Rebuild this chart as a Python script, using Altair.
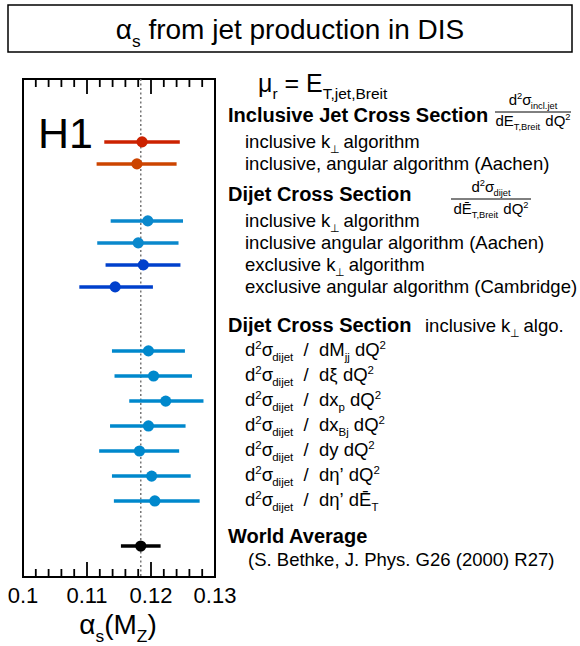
import re
import altair as alt
import pandas as pd

# ---------------- data ----------------
labels = ["Incl. jet, inclusive kT", "Incl. jet, angular (Aachen)",
          "Dijet, inclusive kT", "Dijet, incl. angular (Aachen)",
          "Dijet, exclusive kT", "Dijet, excl. angular (Cambridge)",
          "dMjj dQ2", "dxi dQ2", "dxp dQ2", "dxBj dQ2", "dy dQ2",
          "deta' dQ2", "deta' dET", "World Average"]
alpha_s = [0.1186, 0.1178, 0.1195, 0.1180, 0.1188, 0.1144, 0.1196,
           0.1204, 0.1223, 0.1196, 0.1182, 0.1201, 0.1206, 0.1184]
err_lo = [0.1127, 0.1115, 0.1137, 0.1116, 0.1129, 0.1088, 0.1139,
          0.1143, 0.1166, 0.1136, 0.1119, 0.1139, 0.1142, 0.1153]
err_hi = [0.1245, 0.1240, 0.1250, 0.1243, 0.1246, 0.1203, 0.1253,
          0.1264, 0.1282, 0.1254, 0.1244, 0.1262, 0.1276, 0.1215]
row_pos = [2.86, 3.86, 6.45, 7.45, 8.45, 9.45, 12.36,
           13.5, 14.64, 15.77, 16.91, 18.05, 19.18, 21.23]
group = ["incl_kt", "incl_aachen", "dijet_incl", "dijet_incl",
         "dijet_excl", "dijet_excl"] + ["dijet_var"] * 7 + ["world"]
group_names = ["incl_kt", "incl_aachen", "dijet_incl", "dijet_excl", "dijet_var", "world"]
group_colors = ["#cc2200", "#cc4400", "#0a88cc", "#0040cc", "#0088cc", "#000000"]
world_average = [0.1184]

major_ticks = [0.11, 0.12]
minor_ticks = [0.102, 0.104, 0.106, 0.108, 0.112, 0.114, 0.116, 0.118,
               0.122, 0.124, 0.126, 0.128]
label_ticks = [0.1, 0.11, 0.12, 0.13]
tick_labels = ["0.1", "0.11", "0.12", "0.13"]

# ---------------- layout ----------------
W, H = 192, 498          # plot frame
OX, OY = 23, 79          # frame origin in page coordinates
XDOM = [0.1, 0.13]
YDOM = [0, 498 / 22]
FONT = "Liberation Sans"

REG = {' ': 278, '(': 333, ')': 333, ',': 278, '.': 278, '/': 278, '=': 584, '’': 222,
       'A': 667, 'B': 667, 'C': 722, 'D': 722, 'E': 667, 'Ē': 667, 'G': 778, 'H': 722,
       'I': 278, 'J': 500, 'M': 833, 'P': 667, 'Q': 778, 'R': 722, 'S': 667, 'T': 611,
       'W': 944, 'Z': 611, 'a': 556, 'b': 556, 'c': 500, 'd': 556, 'e': 556, 'f': 278,
       'g': 556, 'h': 556, 'i': 222, 'j': 222, 'k': 500, 'l': 222, 'm': 833, 'n': 556,
       'o': 556, 'p': 556, 'r': 333, 's': 500, 't': 278, 'u': 556, 'v': 500, 'x': 500,
       'y': 500, 'α': 578, 'μ': 576, 'σ': 571, 'ξ': 459, 'η': 556, '⊥': 700}
BOLD = {' ': 278, 'A': 722, 'C': 722, 'D': 722, 'I': 278, 'J': 556, 'S': 667, 'W': 944,
        'a': 556, 'c': 556, 'e': 556, 'g': 611, 'i': 278, 'j': 278, 'l': 278, 'n': 611,
        'o': 611, 'r': 389, 's': 556, 't': 333, 'u': 611, 'v': 556}


def text_width(t, size, weight):
    table = BOLD if weight == "bold" else REG
    return sum(table.get(c, 556) for c in t) * size / 1000.0


def parse(s):
    out = []
    for tok in re.split(r'(\^\{[^}]*\}|_\{[^}]*\})', s):
        if not tok:
            continue
        if tok.startswith('^{'):
            out.append(('sup', tok[2:-1]))
        elif tok.startswith('_{'):
            out.append(('sub', tok[2:-1]))
        else:
            out.append(('n', tok))
    return out


pieces = []


def add(x, y, s, size=18.5, weight="normal", align="left"):
    segs = parse(s)
    sized = []
    for kind, t in segs:
        sz = size if kind == 'n' else size * 0.62
        dy = 0 if kind == 'n' else (0.27 * size if kind == 'sub' else -0.40 * size)
        sized.append((t, sz, dy))
    total = sum(text_width(t, sz, weight) for t, sz, dy in sized)
    if align == "center":
        x = x - total / 2
    for t, sz, dy in sized:
        # split on spaces: every word is its own piece, spaces only advance x
        for word in re.split(r'( )', t):
            if word and word != ' ':
                pieces.append(dict(px=x - OX, py=y + dy - OY, text=word,
                                   size=sz, weight=weight))
            x += text_width(word, sz, weight)


frac_lines = []

add(290, 39, "α_{s} from jet production in DIS", 28, align="center")
add(258, 92, "μ_{r} = E_{T,jet,Breit}", 25)
add(228, 122, "Inclusive Jet Cross Section", 20, "bold")
add(533, 105, "d^{2}σ_{incl.jet}", 15, align="center")
frac_lines.append(dict(px=495 - OX, px2=571 - OX, py=112 - OY))
add(533, 126, "dE_{T,Breit} dQ^{2}", 15, align="center")
add(245, 148, "inclusive k_{⊥} algorithm")
add(245, 170, "inclusive, angular algorithm (Aachen)")
add(228, 201, "Dijet Cross Section", 20, "bold")
add(491, 192, "d^{2}σ_{dijet}", 15, align="center")
frac_lines.append(dict(px=451 - OX, px2=531 - OX, py=199 - OY))
add(491, 214, "dĒ_{T,Breit} dQ^{2}", 15, align="center")
add(245, 227, "inclusive k_{⊥} algorithm")
add(245, 249, "inclusive angular algorithm (Aachen)")
add(245, 271, "exclusive k_{⊥} algorithm")
add(245, 293, "exclusive angular algorithm (Cambridge)")
add(228, 332, "Dijet Cross Section", 20, "bold")
add(425, 332, "inclusive k_{⊥} algo.")
dlines = ["dM_{jj} dQ^{2}", "dξ dQ^{2}", "dx_{p} dQ^{2}", "dx_{Bj} dQ^{2}",
          "dy dQ^{2}", "dη’ dQ^{2}", "dη’ dĒ_{T}"]
for i, d in enumerate(dlines):
    add(245, 356 + 25 * i, "d^{2}σ_{dijet}  /  " + d)
add(228, 543, "World Average", 20, "bold")
add(248, 566, "(S. Bethke, J. Phys. G26 (2000) R27)")
add(38, 148, "H1", 43)
add(118, 634, "α_{s}(M_{Z})", 28, align="center")

txt = pd.DataFrame(pieces)
fl = pd.DataFrame(frac_lines)

meas = pd.DataFrame(dict(label=labels, value=alpha_s, lo=err_lo, hi=err_hi,
                         row=row_pos, group=group))
xs = alt.Scale(domain=XDOM, nice=False, zero=False)
ys = alt.Scale(domain=YDOM, nice=False, zero=False, reverse=True)
cs = alt.Scale(domain=group_names, range=group_colors)

# title box
box = alt.Chart(pd.DataFrame({"a": [0]})).mark_rect(
    fill="white", stroke="black", strokeWidth=1.5
).encode(x=alt.value(8 - OX), x2=alt.value(572 - OX),
         y=alt.value(5 - OY), y2=alt.value(52 - OY))

# dotted world-average line
wa = alt.Chart(pd.DataFrame({"v": world_average})).mark_rule(
    color="#777777", strokeDash=[2, 2.5], strokeWidth=1.5
).encode(x=alt.X("v:Q", scale=xs, axis=None), y=alt.value(0), y2=alt.value(H))

# axis tick labels
axis_labels = alt.Chart(pd.DataFrame({"v": label_ticks, "lab": tick_labels})).mark_text(
    font=FONT, fontSize=22, baseline="alphabetic", align="center", color="black"
).encode(x=alt.X("v:Q", scale=xs, axis=None), y=alt.value(603 - OY), text="lab:N")

tick_rows = ([dict(v=v, y0=0, y1=15) for v in major_ticks] +
             [dict(v=v, y0=H - 15, y1=H) for v in major_ticks] +
             [dict(v=v, y0=0, y1=8) for v in minor_ticks] +
             [dict(v=v, y0=H - 8, y1=H) for v in minor_ticks])
ticks = alt.Chart(pd.DataFrame(tick_rows)).mark_rule(color="black", strokeWidth=1.8).encode(
    x=alt.X("v:Q", scale=xs, axis=None),
    y=alt.Y("y0:Q", scale=None, axis=None), y2="y1:Q")

bars = alt.Chart(meas).mark_rule(strokeWidth=3.5).encode(
    x=alt.X("lo:Q", scale=xs, axis=None), x2="hi:Q",
    y=alt.Y("row:Q", scale=ys, axis=None),
    color=alt.Color("group:N", scale=cs, legend=None))
pts = alt.Chart(meas).mark_circle(size=125, opacity=1).encode(
    x=alt.X("value:Q", scale=xs, axis=None),
    y=alt.Y("row:Q", scale=ys, axis=None),
    color=alt.Color("group:N", scale=cs, legend=None))

fr = alt.Chart(fl).mark_rule(color="black", strokeWidth=1).encode(
    x=alt.X("px:Q", scale=None, axis=None), x2="px2:Q",
    y=alt.Y("py:Q", scale=None, axis=None))


def text_layer(weight):
    return alt.Chart(txt).transform_filter(
        alt.datum.weight == weight
    ).mark_text(align="left", baseline="alphabetic", font=FONT, fontWeight=weight,
                color="black").encode(
        x=alt.X("px:Q", scale=None, axis=None),
        y=alt.Y("py:Q", scale=None, axis=None),
        text="text:N",
        size=alt.Size("size:Q", scale=None, legend=None))


chart = alt.layer(box, wa, ticks, bars, pts, fr, axis_labels,
                  text_layer("normal"), text_layer("bold")).properties(
    width=W, height=H,
    autosize=alt.AutoSizeParams(type="none"),
    padding={"left": OX, "top": OY, "right": 580 - OX - W, "bottom": 646 - OY - H},
    background="white",
).configure_view(stroke="black", strokeWidth=2)

chart.save("out.html", embed_options={"renderer": "svg", "actions": False})
